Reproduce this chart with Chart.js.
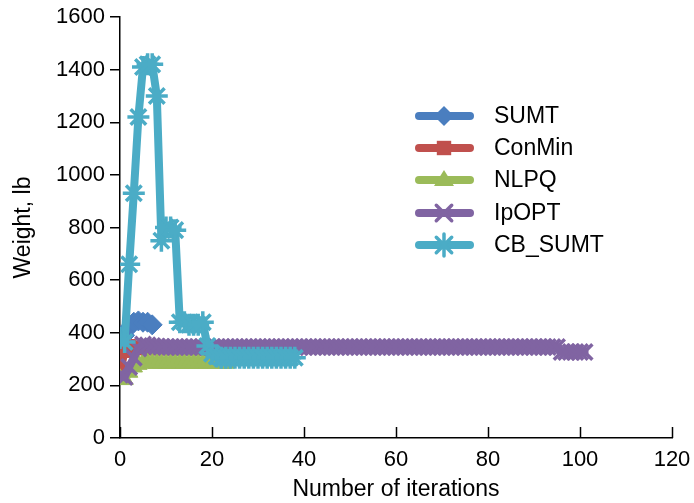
<!DOCTYPE html>
<html>
<head>
<meta charset="utf-8">
<script src="https://cdn.jsdelivr.net/npm/chart.js@4"></script>
<style>
html,body{margin:0;padding:0;background:#fff;}
#wrap{width:694px;height:503px;position:relative;}
</style>
</head>
<body>
<div id="wrap"><canvas id="c" width="694" height="503"></canvas></div>
<script>
const seriesNames = ["SUMT", "ConMin", "NLPQ", "IpOPT", "CB_SUMT"];
const xTicks = [0, 20, 40, 60, 80, 100, 120];
const yTicks = [0, 200, 400, 600, 800, 1000, 1200, 1400, 1600];

const sumt = [360, 390, 420, 440, 445, 440, 440, 430];
const conmin = [250, 330, 350, 345, 342, 340, 340, 340, 340, 340, 340, 340, 340,
  340, 340, 340, 340, 340, 340, 340, 340, 340, 340, 340, 340];
const nlpq = [225, 222, 250, 270, 280, 285, 285, 285, 284, 284, 284, 284, 284,
  284, 284, 284, 284, 284, 284, 284, 284, 284, 284, 284];
const ipopt = [240, 232, 270, 305, 340, 355, 352, 350, 348, 347, 346, 346, 346,
  346, 346, 346, 346, 346, 346, 346, 346, 346, 346, 346, 346, 346, 346, 346,
  346, 346, 346, 346, 346, 346, 346, 346, 346, 346, 346, 346, 346, 346, 346,
  346, 346, 346, 346, 346, 346, 346, 346, 346, 346, 346, 346, 346, 346, 346,
  346, 346, 346, 346, 346, 346, 346, 346, 346, 346, 346, 346, 346, 346, 346,
  346, 346, 346, 346, 346, 346, 346, 346, 346, 346, 346, 346, 346, 346, 346,
  346, 346, 346, 346, 346, 346, 346, 346, 327, 327, 327, 327, 327, 327];
const cbsumt = [380, 365, 660, 930, 1220, 1410, 1420, 1420, 1300, 750, 800, 800,
  790, 440, 440, 430, 430, 430, 440, 350, 320, 310, 305, 305, 305, 305, 305,
  305, 305, 305, 305, 305, 305, 305, 305, 305, 305, 305, 305];

const colors = ["#4a7ebf", "#c0504d", "#9bbb59", "#8064a2", "#4bacc6"];
const styles = ["rectRot", "rect", "triangle", "crossRot", "star"];
const radii = [10, 9, 10, 11, 11];
const allValues = [sumt, conmin, nlpq, ipopt, cbsumt];

const FONT = "'Liberation Sans', Arial, sans-serif";

const datasets = allValues.map((vals, i) => ({
  label: seriesNames[i],
  data: vals.map((v, k) => ({x: k, y: v})),
  borderColor: colors[i],
  backgroundColor: colors[i],
  pointBackgroundColor: colors[i],
  pointBorderColor: colors[i],
  pointStyle: styles[i],
  pointRadius: radii[i],
  pointBorderWidth: (styles[i] === "crossRot" || styles[i] === "star") ? 3.5 : 1,
  borderWidth: 8,
  borderCapStyle: "round",
  borderJoinStyle: "round",
  tension: 0,
  fill: false,
  order: 5 - i
}));

function drawMarker(ctx, style, x, y, r, color) {
  ctx.save();
  ctx.fillStyle = color;
  ctx.strokeStyle = color;
  ctx.lineWidth = 3.5;
  ctx.beginPath();
  if (style === "rectRot") {
    ctx.moveTo(x, y - r); ctx.lineTo(x + r, y); ctx.lineTo(x, y + r); ctx.lineTo(x - r, y); ctx.closePath(); ctx.fill();
  } else if (style === "rect") {
    const s = r * 0.8;
    ctx.rect(x - s, y - s, 2 * s, 2 * s); ctx.fill();
  } else if (style === "triangle") {
    ctx.moveTo(x, y - r); ctx.lineTo(x + r, y + r * 0.6); ctx.lineTo(x - r, y + r * 0.6); ctx.closePath(); ctx.fill();
  } else if (style === "crossRot") {
    const d = r * 0.7;
    ctx.moveTo(x - d, y - d); ctx.lineTo(x + d, y + d); ctx.moveTo(x + d, y - d); ctx.lineTo(x - d, y + d); ctx.stroke();
  } else {
    const d = r * 0.7;
    ctx.moveTo(x - d, y - d); ctx.lineTo(x + d, y + d); ctx.moveTo(x + d, y - d); ctx.lineTo(x - d, y + d);
    ctx.moveTo(x, y - r); ctx.lineTo(x, y + r);
    ctx.stroke();
  }
  ctx.restore();
}

const customDecor = {
  id: "customDecor",
  afterDraw(chart) {
    const ctx = chart.ctx;
    const xs = chart.scales.x;
    const area = chart.chartArea;
    ctx.save();
    ctx.strokeStyle = "#000";
    ctx.lineWidth = 1.5;
    xTicks.forEach(t => {
      const px = Math.round(xs.getPixelForValue(t)) + 0.5;
      ctx.beginPath();
      ctx.moveTo(px, area.bottom);
      ctx.lineTo(px, area.bottom - 11);
      ctx.stroke();
    });
    ctx.restore();
    const rowY = [116, 148, 180, 213, 245];
    ctx.save();
    seriesNames.forEach((name, i) => {
      const y = rowY[i];
      ctx.strokeStyle = colors[i];
      ctx.lineWidth = 8;
      ctx.lineCap = "round";
      ctx.beginPath();
      ctx.moveTo(419, y);
      ctx.lineTo(470, y);
      ctx.stroke();
      drawMarker(ctx, styles[i], 444, y, radii[i], colors[i]);
      ctx.fillStyle = "#000";
      ctx.font = "23px " + FONT;
      ctx.textBaseline = "middle";
      ctx.textAlign = "left";
      ctx.fillText(name, 494, y + 1);
    });
    ctx.restore();
  }
};

new Chart(document.getElementById("c"), {
  type: "line",
  data: {datasets},
  plugins: [customDecor],
  options: {
    responsive: false,
    animation: false,
    events: [],
    layout: {padding: {top: 17, right: 22, left: 10, bottom: 0}},
    plugins: {legend: {display: false}, tooltip: {enabled: false}, title: {display: false}},
    scales: {
      x: {
        type: "linear",
        min: 0, max: 120,
        afterBuildTicks(scale) { scale.ticks = xTicks.map(v => ({value: v})); },
        afterFit(scale) { scale.height = 65; scale.paddingRight = 0; scale.paddingLeft = 0; },
        grid: {display: true, drawOnChartArea: false, drawTicks: false},
        border: {display: true, color: "#000", width: 1.5},
        ticks: {color: "#000", font: {family: FONT, size: 22}, padding: 9, maxRotation: 0, callback: v => String(v)},
        title: {display: true, text: "Number of iterations", color: "#000", font: {family: FONT, size: 23}, padding: {top: 0, bottom: 0}}
      },
      y: {
        type: "linear",
        min: 0, max: 1600,
        afterBuildTicks(scale) { scale.ticks = yTicks.map(v => ({value: v})); },
        afterFit(scale) { scale.width = 110; scale.paddingTop = 0; scale.paddingBottom = 0; },
        grid: {display: true, drawOnChartArea: false, drawTicks: true, tickLength: 10, color: "#000", lineWidth: 1.5},
        border: {display: true, color: "#000", width: 1.5},
        ticks: {color: "#000", font: {family: FONT, size: 22}, padding: 5, callback: v => String(v)},
        title: {display: true, text: "Weight, lb", color: "#000", font: {family: FONT, size: 23}, padding: {top: 0, bottom: 6}}
      }
    }
  }
});
</script>
</body>
</html>
